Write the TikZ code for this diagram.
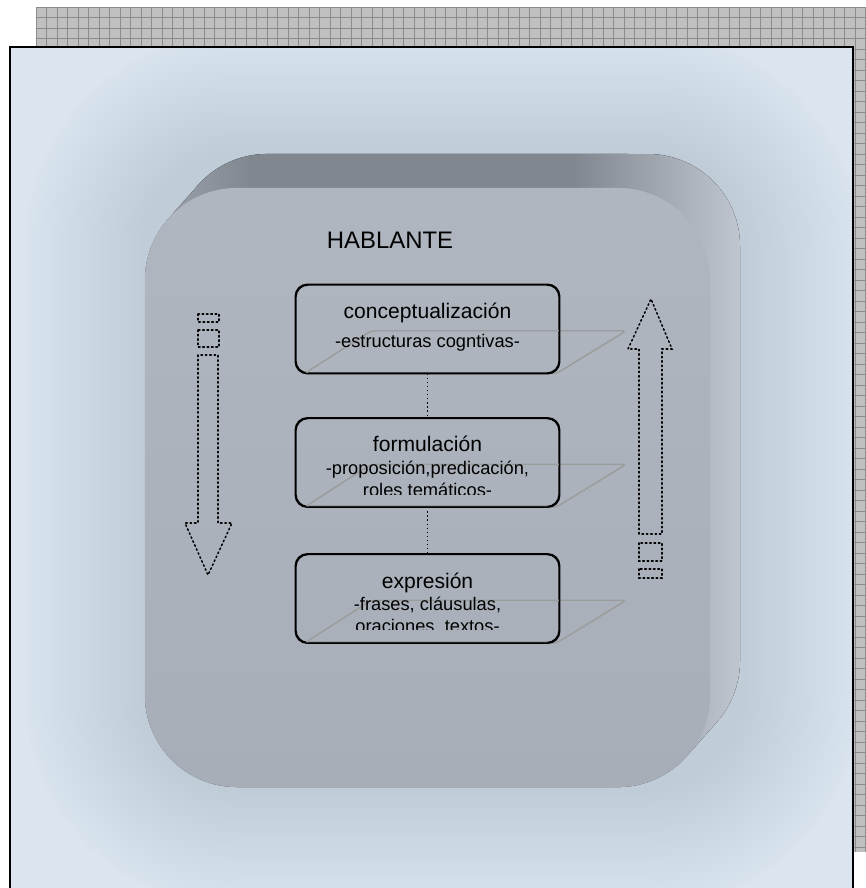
\documentclass[tikz,border=0pt]{standalone}
\usepackage{fontspec}
\setmainfont{Liberation Sans}
\usetikzlibrary{calc,positioning}
\definecolor{gridfill}{RGB}{192,192,192}
\definecolor{gridline}{RGB}{140,140,140}
\definecolor{paneblue}{RGB}{219,228,239}
\definecolor{glowblue}{RGB}{172,190,214}
\definecolor{sidedark}{RGB}{128,135,143}
\definecolor{sideleft}{RGB}{160,166,175}
\definecolor{sidelight}{RGB}{192,198,207}
\definecolor{facetop}{RGB}{176,182,191}
\definecolor{facebot}{RGB}{168,174,184}
\definecolor{planegray}{RGB}{155,155,155}
\pgfdeclarehorizontalshading{sideshade}{100bp}{color(0bp)=(sideleft); color(25bp)=(sideleft); color(34bp)=(sidedark); color(61bp)=(sidedark); color(75bp)=(sidelight); color(100bp)=(sidelight)}
\begin{document}
\begin{tikzpicture}[x=0.025cm, y=-0.025cm]
  \tikzset{stage/.style={draw, line width=1pt, rounded corners=0.3cm, minimum width=6.575cm, minimum height=2.2cm, inner sep=0pt},
    headtext/.style={font=\fontsize{15}{18}\selectfont, inner sep=0pt, anchor=base},
    subtext/.style={font=\fontsize{13}{15.6}\selectfont, inner sep=0pt, anchor=base},
    plane/.style={draw=planegray, line width=1pt, rounded corners=0.1cm},
    link/.style={dotted, line width=0.9pt},
    flowarrow/.style={dotted, line width=1.1pt, line cap=round}}
  \useasboundingbox (0,0) rectangle (866,888);
  % checkered backdrop
  \fill[gridfill] (36,7) rectangle (866,852);
  \foreach \gx in {36,46.5,...,866} \draw[gridline, line width=0.5pt] (\gx,7) -- (\gx,852);
  \foreach \gy in {7,17.5,...,852} \draw[gridline, line width=0.5pt] (36,\gy) -- (866,\gy);
  % panel
  \fill[paneblue] (10,47) rectangle (853,890);
  \begin{scope}
    \clip (10,47) rectangle (853,888);
    \foreach \g in {5,10,...,120} {
      \pgfmathsetmacro\glowrad{(\g+92)*0.025}
      \fill[glowblue, fill opacity=0.022, rounded corners=\glowrad cm] (145-\g,154-\g) rectangle (740+\g,787+\g);
    }
  \end{scope}
  \draw[line width=1.5pt] (10,47) rectangle (853,890);
  % speaker block: extruded side, then face
  \fill[shading=sideshade] (198,185.1) arc[start angle=221.4, end angle=270, radius=92] -- (648,154)
    arc[start angle=270, end angle=360, radius=92] -- (740,661)
    arc[start angle=0, end angle=41.4, radius=92] -- (687,755.9)
    arc[start angle=41.4, end angle=90, radius=92] -- (237,787)
    arc[start angle=90, end angle=180, radius=92] -- (145,280)
    arc[start angle=180, end angle=221.4, radius=92] -- cycle;
  \node[top color=facetop, bottom color=facebot, rounded corners=2.3cm, minimum width=14.125cm, minimum height=14.975cm, inner sep=0pt] (speaker) at (427.5,487.5) {};
  \node[font=\fontsize{17}{20}\selectfont, inner sep=0pt, anchor=base] (speakername) at (390,248) {HABLANTE};
  % stages
  \node[stage] (concep) at (427.5,329) {};
  \node[stage] (formul) at (427.5,462.5) {};
  \node[stage] (expres) at (427.5,598.5) {};
  \foreach \b in {concep,formul,expres}
    \draw[plane] ($(\b.south west)+(9,0)$) -- ++(67,-43) -- ++(255,0) -- ++(-70,43) -- cycle;
  \foreach \b in {concep,formul,expres}
    \draw[line width=1pt, rounded corners=0.3cm] (\b.south west) rectangle (\b.north east);
  \node[headtext] (conceptitle) at ($(concep.north)+(0,34)$) {conceptualización};
  \node[subtext] (concepsub) at ($(concep.north)+(0,63)$) {-estructuras cogntivas-};
  \node[headtext] (formultitle) at ($(formul.north)+(0,34)$) {formulación};
  \node[subtext] (formulsub) at ($(formul.north)+(0,57)$) {-proposición,predicación,};
  \begin{scope}
    \clip (formul.north west) rectangle ($(formul.south east)+(0,-13)$);
    \node[subtext] (formulsubb) at ($(formul.north)+(0,79)$) {roles temáticos-};
  \end{scope}
  \node[headtext] (exprestitle) at ($(expres.north)+(0,35)$) {expresión};
  \node[subtext] (expressub) at ($(expres.north)+(0,57)$) {-frases, cláusulas,};
  \begin{scope}
    \clip (expres.north west) rectangle ($(expres.south east)+(0,-14)$);
    \node[subtext] (expressubb) at ($(expres.north)+(0,79)$) {oraciones, textos-};
  \end{scope}
  \draw[link] (concep) -- (formul);
  \draw[link] (formul) -- (expres);
  % dotted block arrows
  \draw[flowarrow] (198,355) -- (198,523) -- (185,523) -- (208,575) -- (232,523) -- (218,523) -- (218,355) -- cycle;
  \draw[flowarrow] (198,314) rectangle (219,322);
  \draw[flowarrow] (198,330) rectangle (219,347);
  \draw[flowarrow] (639,534) -- (639,349) -- (628,349) -- (651,299) -- (672,349) -- (662,349) -- (662,534) -- cycle;
  \draw[flowarrow] (639,543) rectangle (662,561);
  \draw[flowarrow] (639,569) rectangle (662,578);
\end{tikzpicture}
\end{document}
